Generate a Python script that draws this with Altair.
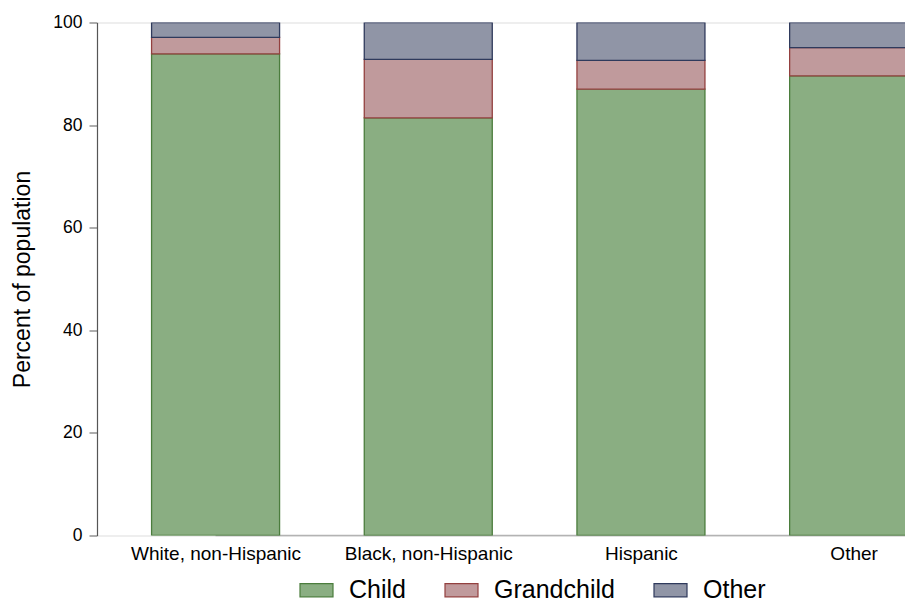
import json
import altair as alt
import pandas as pd

categories = ["White, non-Hispanic", "Black, non-Hispanic", "Hispanic", "Other"]
child = [93.9, 81.4, 87.0, 89.6]
grandchild = [3.2, 11.4, 5.6, 5.5]
other = [2.9, 7.2, 7.4, 4.9]

groups = ["Child", "Grandchild", "Other"]
fills = ["#8aae82", "#c09a9c", "#9095a6"]
strokes = ["#4b7d3d", "#93403f", "#2f3a5c"]
y_ticks = [0, 20, 40, 60, 80, 100]

rows = []
for i, cat in enumerate(categories):
    for j, (g, vals) in enumerate(zip(groups, [child, grandchild, other])):
        rows.append({"idx": i, "category": cat, "group": g, "order": j, "value": vals[i]})
df = pd.DataFrame(rows)

W = 808
H = 513
FONT = "Liberation Sans"

label_expr = json.dumps(categories) + "[round(datum.value)]"

x_scale = alt.Scale(domain=[-0.534, 3.218], nice=False, zero=False)
y_scale = alt.Scale(domain=[0, 100], nice=False)

leg = alt.Legend(
    title=None, orient="none", legendX=202, legendY=550, direction="horizontal",
    symbolType="M-1,-0.4H1V0.4H-1Z", symbolSize=1089, symbolStrokeWidth=1.2,
    labelFontSize=25, labelFont=FONT, labelColor="#000", labelOffset=15,
    columnPadding=36, padding=0,
)

axis_line = alt.Chart(pd.DataFrame({"a": [0]})).mark_rule(
    color="#b3b3b3", strokeWidth=1.5
).encode(
    x=alt.X(datum=0, type="quantitative", scale=x_scale),
    x2=alt.value(W),
    y=alt.Y(datum=0, type="quantitative", scale=y_scale),
)

bars = alt.Chart(df).mark_bar(size=128, strokeWidth=1.3, clip=True).encode(
    x=alt.X("idx:Q", scale=x_scale, axis=alt.Axis(
        values=[0, 1, 2, 3], labelExpr=label_expr, ticks=False, domain=False,
        grid=False, title=None, labelFontSize=19, labelFont=FONT,
        labelColor="#000", labelPadding=9,
    )),
    y=alt.Y("value:Q", stack="zero", scale=y_scale, axis=alt.Axis(
        values=y_ticks, grid=False, tickSize=8, domainColor="#555555",
        tickColor="#777777", domainWidth=1.2, tickWidth=1.2,
        title="Percent of population", titleFontSize=23, titleFont=FONT,
        titleFontWeight="normal", titleColor="#000", titlePadding=18,
        labelFontSize=17.5, labelFont=FONT, labelColor="#000", labelPadding=7,
    )),
    fill=alt.Fill("group:N", scale=alt.Scale(domain=groups, range=fills), legend=leg),
    stroke=alt.Stroke("group:N", scale=alt.Scale(domain=groups, range=strokes), legend=leg),
    order=alt.Order("order:Q"),
)

chart = alt.layer(axis_line, bars).properties(
    width=W, height=H,
    padding={"left": 89, "top": 14.5, "right": 0, "bottom": 69.5},
    autosize=alt.AutoSizeParams(type="none"),
).configure_view(stroke=None).configure(font=FONT)

chart.save("out.html", embed_options={"renderer": "svg", "actions": False})
